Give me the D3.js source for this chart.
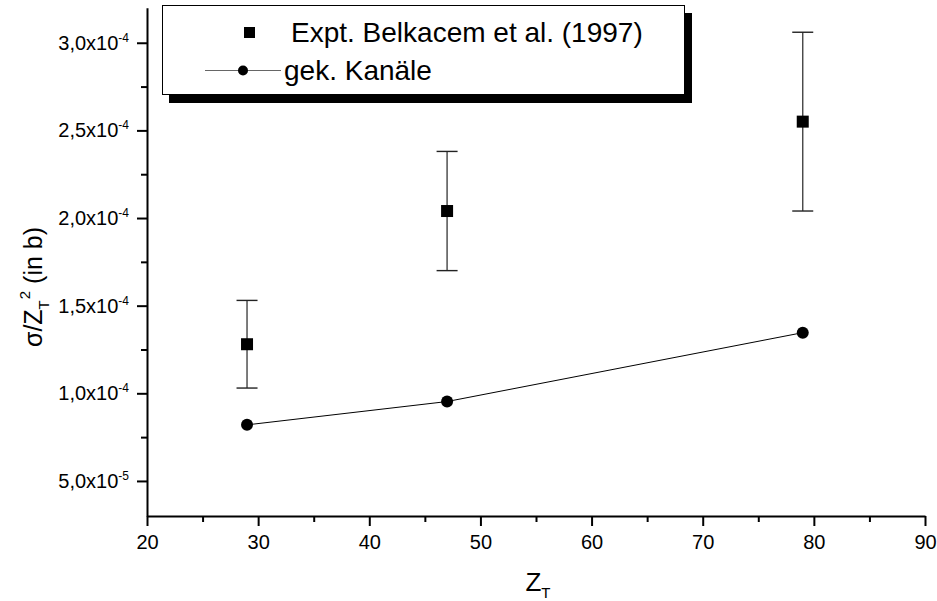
<!DOCTYPE html>
<html>
<head>
<meta charset="utf-8">
<script src="https://cdn.jsdelivr.net/npm/d3@7"></script>
<style>
  body { margin: 0; background: #fff; }
  text { font-family: "Liberation Sans", Arial, sans-serif; fill: #000; }
</style>
</head>
<body>
<div id="chart"></div>
<script>
// data
const zValues = [29, 47, 79];
const exptValues = [1.28e-4, 2.04e-4, 2.55e-4];
const exptErrors = [0.25e-4, 0.34e-4, 0.51e-4];
const calcValues = [8.2e-5, 9.53e-5, 1.346e-4];
const xTicks = [20, 30, 40, 50, 60, 70, 80, 90];
const xMinorTicks = [25, 35, 45, 55, 65, 75, 85];
const yTicks = [5e-5, 1e-4, 1.5e-4, 2e-4, 2.5e-4, 3e-4];
const yMinorTicks = [7.5e-5, 1.25e-4, 1.75e-4, 2.25e-4, 2.75e-4];
const legendLabels = ["Expt. Belkacem et al. (1997)", "gek. Kanäle"];

function main() {
    const width = 937;
    const height = 601;
    const svg = d3.select("#chart")
        .append("svg")
        .attr("width", width)
        .attr("height", height)

    const x = d3.scaleLinear().domain([20, 90]).range([147, 925])
    const y = d3.scaleLinear().domain([3e-5, 3.2e-4]).range([516, 7.7])

    // minor ticks first, then main axes
    svg.append("g")
        .attr("transform", "translate(0,516)")
        .call(d3.axisBottom(x).tickValues(xMinorTicks).tickSize(6).tickFormat(""))
        .call(g => g.select(".domain").remove())
        .selectAll("line").attr("stroke-width", 2)

    svg.append("g")
        .attr("transform", "translate(147,0)")
        .call(d3.axisLeft(y).tickValues(yMinorTicks).tickSize(6).tickFormat(""))
        .call(g => g.select(".domain").remove())
        .selectAll("line").attr("stroke-width", 2)

    const xAxis = svg.append("g")
        .attr("transform", "translate(0,516)")
        .call(d3.axisBottom(x).tickValues(xTicks).tickSizeInner(10).tickSizeOuter(0).tickPadding(9))
    xAxis.select(".domain").attr("stroke-width", 2)
    xAxis.selectAll("line").attr("stroke-width", 2)
    xAxis.selectAll("text").style("font-size", "20px").attr("fill", "#000")

    const yAxis = svg.append("g")
        .attr("transform", "translate(147,0)")
        .call(d3.axisLeft(y).tickValues(yTicks).tickSizeInner(10).tickSizeOuter(0).tickPadding(8))
    yAxis.select(".domain").attr("stroke-width", 2)
    yAxis.selectAll("line").attr("stroke-width", 2)
    yAxis.selectAll("text")
        .style("font-size", "20px")
        .attr("fill", "#000")
        .text("")
        .each(function (d) {
            const parts = d.toExponential(1).split("e")
            const t = d3.select(this)
            t.append("tspan").text(parts[0].replace(".", ",") + "x10")
            t.append("tspan").attr("dy", -8).style("font-size", "12px").text(parts[1].replace("+", ""))
        })

    // error bars
    const bars = svg.append("g")
    zValues.forEach((z, i) => {
        const lo = y(exptValues[i] - exptErrors[i])
        const hi = y(exptValues[i] + exptErrors[i])
        bars.append("line")
            .attr("x1", x(z)).attr("x2", x(z))
            .attr("y1", lo).attr("y2", hi)
            .attr("stroke", "#444").attr("stroke-width", 1.4)
        ;[lo, hi].forEach(yy => {
            bars.append("line")
                .attr("x1", x(z) - 10.5).attr("x2", x(z) + 10.5)
                .attr("y1", yy).attr("y2", yy)
                .attr("stroke", "#222").attr("stroke-width", 1.4)
        })
    })

    // experimental squares
    svg.append("g")
        .selectAll("rect")
        .data(zValues)
        .join("rect")
        .attr("x", d => x(d) - 6)
        .attr("y", (d, i) => y(exptValues[i]) - 6)
        .attr("width", 12)
        .attr("height", 12)
        .attr("fill", "#000")

    // calculation line + circles
    const line = d3.line().x(d => x(d[0])).y(d => y(d[1]))
    svg.append("path")
        .datum(zValues.map((z, i) => [z, calcValues[i]]))
        .attr("d", line)
        .attr("fill", "none")
        .attr("stroke", "#000")
        .attr("stroke-width", 1)

    svg.append("g")
        .selectAll("circle")
        .data(zValues)
        .join("circle")
        .attr("cx", d => x(d))
        .attr("cy", (d, i) => y(calcValues[i]))
        .attr("r", 6)
        .attr("fill", "#000")

    // legend
    const legend = svg.append("g")
    legend.append("rect")
        .attr("x", 169).attr("y", 13).attr("width", 523).attr("height", 90)
        .attr("fill", "#000")
    legend.append("rect")
        .attr("x", 162.5).attr("y", 5.5).attr("width", 522).attr("height", 89)
        .attr("fill", "#fff").attr("stroke", "#000").attr("stroke-width", 1)
    legend.append("rect")
        .attr("x", 244).attr("y", 27).attr("width", 11).attr("height", 11)
        .attr("fill", "#000")
    legend.append("line")
        .attr("x1", 205).attr("x2", 281).attr("y1", 70.5).attr("y2", 70.5)
        .attr("stroke", "#666").attr("stroke-width", 1)
    legend.append("circle")
        .attr("cx", 243).attr("cy", 70.5).attr("r", 5)
        .attr("fill", "#000")
    legend.selectAll("text.lbl")
        .data(legendLabels)
        .join("text")
        .attr("class", "lbl")
        .attr("x", (d, i) => i === 0 ? 291 : 284)
        .attr("y", (d, i) => 42 + i * 38)
        .style("font-size", "28px")
        .text(d => d)

    // axis titles
    const xt = svg.append("text")
        .attr("x", 538).attr("y", 591)
        .attr("text-anchor", "middle")
        .style("font-size", "26px")
    xt.append("tspan").text("Z")
    xt.append("tspan").attr("dy", 7).style("font-size", "15px").text("T")

    const yt = svg.append("text")
        .attr("transform", "translate(42,287) rotate(-90)")
        .attr("text-anchor", "middle")
        .style("font-size", "25px")
    yt.append("tspan").text("σ/Z")
    yt.append("tspan").attr("dy", 7).style("font-size", "15px").text("T")
    yt.append("tspan").attr("dy", -19).attr("dx", 1).style("font-size", "15px").text("2")
    yt.append("tspan").attr("dy", 12).text(" (in b)")
}
main();
</script>
</body>
</html>
